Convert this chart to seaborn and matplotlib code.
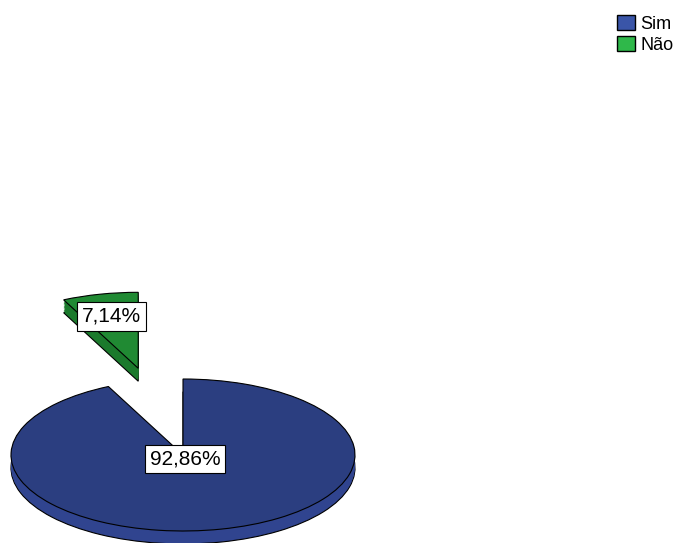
import matplotlib
matplotlib.use("Agg")
import matplotlib.pyplot as plt
from matplotlib.patches import Patch
import numpy as np
import seaborn as sns

sns.set_style("white")
plt.rcParams['font.family'] = ['Liberation Sans', 'DejaVu Sans']
plt.rcParams['text.color'] = 'black'

########################################

categorias = ["Sim", "Não"]
percentuais = [92.86, 7.14]
rotulos = ["92,86%", "7,14%"]
cores_topo = ["#2b3e80", "#208a33"]
cores_lado = ["#30448f", "#1b7a2c"]
cores_legenda = ["#3a55a8", "#2fb84a"]
afastamento = [0.0, 1.17]
dist_rotulo = [0.055, 0.70]

# Não first so that it starts at 12 o'clock and goes counter-clockwise
ordem = [1, 0]
vals = [percentuais[i] for i in ordem]
expl = [afastamento[i] for i in ordem]

########################################

fig = plt.figure(figsize=(6.8, 5.43), dpi=100)
ax = fig.add_axes([0, 0, 1, 1])

# side of the 3d pie: stacked copies shifted down
espessura = 0.17
for k, dz in enumerate(np.linspace(espessura, 0.01, 10)):
    ax.pie(vals, colors=[cores_lado[i] for i in ordem], explode=expl,
           startangle=90, center=(0, -dz),
           wedgeprops=dict(edgecolor="black" if k == 0 else "none", linewidth=0.8))

wedges, _ = ax.pie(vals, colors=[cores_topo[i] for i in ordem], explode=expl,
                   startangle=90,
                   wedgeprops=dict(edgecolor="black", linewidth=0.8))

for w, i in zip(wedges, ordem):
    meio = np.deg2rad((w.theta1 + w.theta2) / 2)
    cx, cy = w.center
    x = cx + dist_rotulo[i] * np.cos(meio)
    y = cy + dist_rotulo[i] * np.sin(meio)
    ax.text(x, y, rotulos[i], ha="center", va="center", fontsize=15, color="black",
            bbox=dict(boxstyle="square,pad=0.22", facecolor="white",
                      edgecolor="black", linewidth=0.8), zorder=10)

ax.set_aspect("auto")
ax.set_xlim(-183 / 172, (680 - 183) / 172)
ax.set_ylim(-(543 - 455) / 76, 455 / 76)
ax.axis("off")

handles = [Patch(facecolor=c, edgecolor="black", linewidth=1.0) for c in cores_legenda]
fig.legend(handles, categorias, loc="upper left", bbox_to_anchor=(0.908, 0.972),
           frameon=False, fontsize=13, handlelength=1.0, handleheight=0.85,
           handletextpad=0.25, labelspacing=0.2, borderaxespad=0.0, borderpad=0.0)

plt.savefig("out.png", dpi=100)
